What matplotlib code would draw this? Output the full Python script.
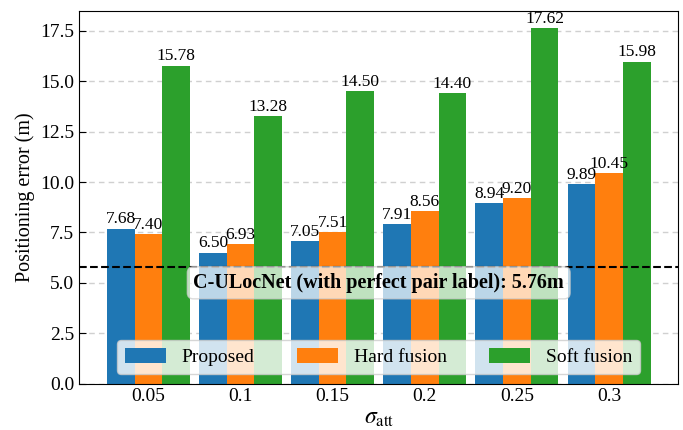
import matplotlib
matplotlib.use("Agg")
import matplotlib.pyplot as plt
import numpy as np

plt.rcParams['font.family'] = ['Liberation Serif', 'DejaVu Serif']
plt.rcParams['mathtext.fontset'] = 'stix'

sigma_labels = ["0.05", "0.1", "0.15", "0.2", "0.25", "0.3"]
proposed = [7.68, 6.50, 7.05, 7.91, 8.94, 9.89]
hard_fusion = [7.40, 6.93, 7.51, 8.56, 9.20, 10.45]
soft_fusion = [15.78, 13.28, 14.50, 14.40, 17.62, 15.98]
baseline = 5.76

x = np.arange(len(sigma_labels))
width = 0.3

fig = plt.figure(figsize=(6.83, 4.3), dpi=100)
ax = fig.add_axes([0.116, 0.108, 0.877, 0.867])

b1 = ax.bar(x - width, proposed, width, color='#1f77b4', label='Proposed', zorder=2)
b2 = ax.bar(x, hard_fusion, width, color='#ff7f0e', label='Hard fusion', zorder=2)
b3 = ax.bar(x + width, soft_fusion, width, color='#2ca02c', label='Soft fusion', zorder=2)
for bars in (b1, b2, b3):
    ax.bar_label(bars, fmt='%.2f', fontsize=12.5, padding=1)

# reference line for the model trained with perfect pair labels
ax.axhline(baseline, color='black', linestyle='--', linewidth=1.5, zorder=3)
ax.text(2.5, 5.0, f"C-ULocNet (with perfect pair label): {baseline:.2f}m",
        ha='center', va='center', fontsize=14.5, fontweight='bold', zorder=4,
        bbox=dict(boxstyle='round,pad=0.3', facecolor='white', edgecolor='#cccccc', alpha=0.7))

ax.set_xlim(-0.75, 5.75)
ax.set_ylim(0, 18.5)
ax.set_yticks(np.arange(0, 18, 2.5))
ax.set_xticks(x)
ax.set_xticklabels(sigma_labels)
ax.tick_params(direction='in', labelsize=14, length=5)
ax.yaxis.grid(True, linestyle=(0, (4, 3)), color='#d0d0d0', linewidth=1, zorder=0)
ax.set_axisbelow(True)

ax.set_xlabel(r'$\sigma_{\mathrm{att}}$', fontsize=17, labelpad=2)
ax.set_ylabel('Positioning error (m)', fontsize=14.5)

ax.legend(loc='lower center', ncol=3, fontsize=14, framealpha=0.8,
          handlelength=2.1, handleheight=0.8, handletextpad=0.8, columnspacing=2.2,
          bbox_to_anchor=(0.5, 0.0))

fig.savefig('out.png', dpi=100)
